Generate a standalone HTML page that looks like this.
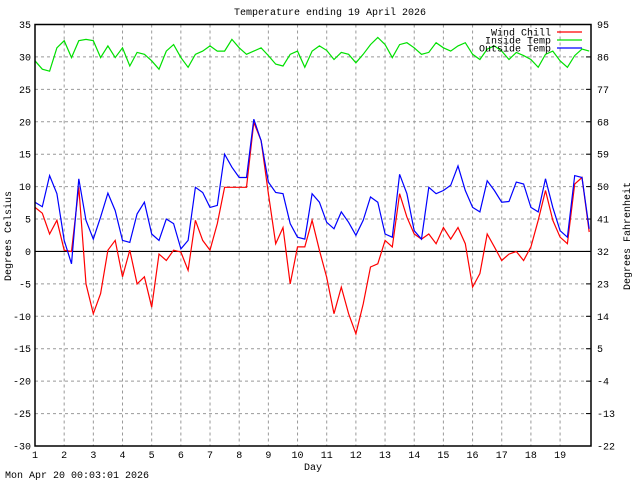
<!DOCTYPE html>
<html><head><meta charset="utf-8"><style>
body{margin:0;background:#fff;}
svg{display:block;font-family:"Liberation Mono",monospace;font-size:10px;}
</style></head><body>
<svg id="chart" width="640" height="480">
<text x="330" y="15" text-anchor="middle">Temperature ending 19 April 2026</text>
<text x="313" y="470" text-anchor="middle">Day</text>
<text transform="translate(11,236) rotate(-90)" text-anchor="middle">Degrees Celsius</text>
<text transform="translate(630,236) rotate(-90)" text-anchor="middle">Degrees Fahrenheit</text>
<text x="5" y="478">Mon Apr 20 00:03:01 2026</text>
<g id="grid"></g><g id="series"></g>
<rect x="35" y="24.5" width="556" height="421.5" fill="none" stroke="#000" stroke-width="1.5"/>
<g id="legend"></g>
</svg>
<script>
const celsiusTicks=[35,30,25,20,15,10,5,0,-5,-10,-15,-20,-25,-30];
const fahrenheitTicks=[95,86,77,68,59,50,41,32,23,14,5,-4,-13,-22];
const dayTicks=[1,2,3,4,5,6,7,8,9,10,11,12,13,14,15,16,17,18,19];
const startDay=1, stepDay=0.25;
const outsideTemp=[7.6,6.9,11.7,8.9,1.7,-1.9,11.2,4.8,1.9,5.3,9.0,6.3,1.7,1.4,5.8,7.6,2.7,1.7,5.0,4.3,0.4,1.7,9.9,9.1,6.8,7.1,15.0,13.0,11.4,11.4,20.4,17.1,10.7,9.1,8.9,4.3,2.2,1.9,8.9,7.6,4.5,3.5,6.1,4.5,2.5,4.8,8.4,7.6,2.7,2.2,11.9,8.9,3.2,1.9,9.9,8.9,9.4,10.2,13.2,9.4,6.8,6.1,10.9,9.4,7.6,7.7,10.7,10.4,6.8,6.1,11.2,6.8,3.2,2.2,11.7,11.4,3.5];
const windChill=[6.8,5.9,2.7,4.8,0.2,0,9.9,-5,-9.6,-6.5,0.2,1.7,-3.9,0.2,-5,-3.9,-8.6,-0.4,-1.4,0.2,-0.1,-2.9,4.8,1.7,0.2,4.3,9.9,9.9,9.9,9.9,19.9,17.1,8.9,1.2,3.7,-5,0.7,0.7,4.8,0.2,-4.0,-9.6,-5.5,-9.6,-12.7,-8.1,-2.4,-1.9,1.7,0.7,8.9,5.3,2.7,1.9,2.7,1.2,3.7,1.9,3.7,1.2,-5.5,-3.4,2.7,0.7,-1.4,-0.4,0,-1.4,0.7,4.8,9.4,4.8,2.2,1.2,10.4,11.4,3.0];
const insideTemp=[29.4,28.1,27.8,31.4,32.5,29.9,32.5,32.7,32.5,29.9,31.7,29.9,31.4,28.6,30.7,30.4,29.4,28.1,30.9,31.9,29.9,28.4,30.4,30.9,31.7,30.9,30.9,32.7,31.4,30.4,30.9,31.4,30.2,28.9,28.6,30.4,30.9,28.4,30.9,31.7,31.0,29.6,30.7,30.4,29.1,30.4,31.9,33.0,31.9,29.9,31.9,32.2,31.4,30.4,30.7,32.2,31.4,30.9,31.7,32.2,30.4,29.6,31.2,31.7,30.9,29.6,30.7,30.2,29.6,28.4,30.4,30.9,29.4,28.4,30.2,31.2,30.9];
const NS="http://www.w3.org/2000/svg";
const X0=35,X1=591,Y0=446,Y1=24.5,DMIN=1,DMAX=20.06,TMIN=-30,TMAX=35;
function xs(d){return X0+(d-DMIN)/(DMAX-DMIN)*(X1-X0);}
function ys(t){return Y0-(t-TMIN)/(TMAX-TMIN)*(Y0-Y1);}
function mk(tag,attrs,parent){const e=document.createElementNS(NS,tag);for(const k in attrs)e.setAttribute(k,attrs[k]);parent.appendChild(e);return e;}
const grid=document.getElementById('grid');
celsiusTicks.forEach((t,i)=>{
  const y=ys(t);
  if(t!==TMIN&&t!==TMAX){
    const g=mk('line',{x1:X0,x2:X1,y1:y,y2:y,stroke:t===0?'#000':'#999','stroke-dasharray':t===0?'none':'3,3','stroke-width':t===0?1.2:1},grid);
    
    
  }
  const l=mk('text',{x:X0-4,y:y+3.5,'text-anchor':'end'},grid);l.textContent=t;
  
  
  const r=mk('text',{x:X1+6,y:y+3.5},grid);r.textContent=fahrenheitTicks[i];
  
  
  const tk=mk('line',{x1:X1-5,x2:X1,y1:y,y2:y,stroke:'#000'},grid);
  
  
});
dayTicks.forEach(d=>{
  const x=xs(d);
  if(d!==DMIN){const g=mk('line',{x1:x,x2:x,y1:Y1,y2:Y0,stroke:'#999','stroke-dasharray':'3,3'},grid);
    
    }
  const l=mk('text',{x:x,y:Y0+12,'text-anchor':'middle'},grid);l.textContent=d;
  
  
});
const series=document.getElementById('series');
function draw(arr,color,name){
  const pts=arr.map((v,i)=>xs(startDay+i*stepDay).toFixed(1)+','+ys(v).toFixed(1)).join(' ');
  const p=mk('polyline',{points:pts,fill:'none',stroke:color,'stroke-width':1.2},series);
  
  
}
draw(insideTemp,'#00e000','inside-temp-line');
draw(windChill,'#ff0000','wind-chill-line');
draw(outsideTemp,'#0000ff','outside-temp-line');
const legend=document.getElementById('legend');
[['Wind Chill','#ff0000'],['Inside Temp','#00e000'],['Outside Temp','#0000ff']].forEach((e,i)=>{
  const y=32+i*8;
  const t=mk('text',{x:551,y:y+3.5,'text-anchor':'end'},legend);t.textContent=e[0];
  
  
  const l=mk('line',{x1:557,x2:582,y1:y,y2:y,stroke:e[1],'stroke-width':1.2},legend);
  
  
});
</script>
</body></html>
